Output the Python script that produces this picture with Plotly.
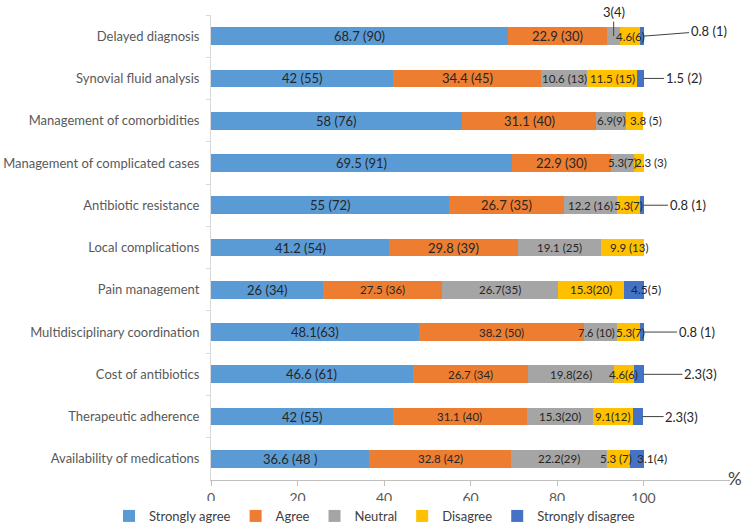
import plotly.graph_objects as go

categories = ["Delayed diagnosis", "Synovial fluid analysis", "Management of comorbidities",
              "Management of complicated cases", "Antibiotic resistance", "Local complications",
              "Pain management", "Multidisciplinary coordination", "Cost of antibiotics",
              "Therapeutic adherence", "Availability of medications"]

series_names = ["Strongly agree", "Agree", "Neutral", "Disagree", "Strongly disagree"]

strongly_agree = [68.7, 42, 58, 69.5, 55, 41.2, 26, 48.1, 46.6, 42, 36.6]
agree = [22.9, 34.4, 31.1, 22.9, 26.7, 29.8, 27.5, 38.2, 26.7, 31.1, 32.8]
neutral = [3, 10.6, 6.9, 5.3, 12.2, 19.1, 26.7, 7.6, 19.8, 15.3, 22.2]
disagree = [4.6, 11.5, 3.8, 2.3, 5.3, 9.9, 15.3, 5.3, 4.6, 9.1, 5.3]
strongly_disagree = [0.8, 1.5, 0, 0, 0.8, 0, 4.5, 0.8, 2.3, 2.3, 3.1]

sa_labels = ["68.7 (90)", "42 (55)", "58 (76)", "69.5 (91)", "55 (72)", "41.2 (54)", "26 (34)",
             "48.1(63)", "46.6 (61)", "42 (55)", "36.6 (48 )"]
ag_labels = ["22.9 (30)", "34.4 (45)", "31.1 (40)", "22.9 (30)", "26.7 (35)", "29.8 (39)",
             "27.5 (36)", "38.2 (50)", "26.7 (34)", "31.1 (40)", "32.8 (42)"]
ne_labels = ["3(4)", "10.6 (13)", "6.9(9)", "5.3(7)", "12.2 (16)", "19.1 (25)", "26.7(35)",
             "7.6 (10)", "19.8(26)", "15.3(20)", "22.2(29)"]
di_labels = ["4.6(6)", "11.5 (15)", "3.8 (5)", "2.3 (3)", "5.3(7)", "9.9 (13)", "15.3(20)",
             "5.3(7)", "4.6(6)", "9.1(12)", "5.3 (7)"]
sd_labels = ["0.8 (1)", "1.5 (2)", "", "", "0.8 (1)", "", "4.5(5)", "0.8 (1)", "2.3(3)",
             "2.3(3)", "3.1(4)"]

values = [strongly_agree, agree, neutral, disagree, strongly_disagree]
labels = [sa_labels, ag_labels, ne_labels, di_labels, sd_labels]
colors = ["#5B9BD5", "#ED7D31", "#A5A5A5", "#FFC000", "#4472C4"]

# styling: label font sizes per series, small pixel shifts and callouts
series_font = [13, 13, 11.5, 11.5, 12]
xshift = {(2, 3): 12, (3, 3): 12, (5, 3): 7, (6, 4): 12, (10, 3): -3, (10, 4): 15,
          (7, 2): -4, (7, 3): 2}
callout = {(0, 2): (0, -24), (0, 4): (65, -5), (1, 4): (40, 0), (4, 4): (44, 0),
           (7, 4): (53, 0), (8, 4): (57, 0), (9, 4): (39, 0)}

fig = go.Figure()
for name, vals, col in zip(series_names, values, colors):
    fig.add_trace(go.Bar(y=categories, x=vals, name=name, orientation="h",
                         marker=dict(color=col, line=dict(width=0)), hoverinfo="skip"))

annotations = []
for i, cat in enumerate(categories):
    start = 0.0
    for s in range(5):
        v = values[s][i]
        txt = labels[s][i]
        if v > 0 and txt:
            size = series_font[s]
            if s == 1 and i >= 6:
                size = 11.5
            if (i, s) == (7, 2):
                size = 11
            if (i, s) in callout:
                ax, ay = callout[(i, s)]
                head_x = start + v / 2 if s != 4 else start + v
                annotations.append(dict(x=head_x, y=cat, xref="x", yref="y", text=txt,
                                        showarrow=True, arrowhead=0, arrowwidth=1,
                                        arrowcolor="#404040", ax=ax, ay=ay,
                                        font=dict(family="Lato", size=13, color="#262626")))
            else:
                annotations.append(dict(x=start + v / 2, y=cat, xref="x", yref="y", text=txt,
                                        showarrow=False, xshift=xshift.get((i, s), 0),
                                        font=dict(family="Lato", size=size, color="#262626")))
        start += v

annotations.append(dict(x=1.0096, y=0.004, xref="paper", yref="paper", text="%",
                        showarrow=False, xanchor="center", yanchor="middle",
                        font=dict(family="Lato", size=17, color="#404040")))

fig.update_layout(
    width=750, height=525,
    margin=dict(l=211, r=20, t=15, b=45, autoexpand=False),
    barmode="stack", bargap=0.58,
    plot_bgcolor="white", paper_bgcolor="white",
    font=dict(family="Lato", color="#595959"),
    xaxis=dict(range=[0, 120], tickvals=[0, 20, 40, 60, 80, 100], showline=True,
               linecolor="#bfbfbf", ticks="outside", tickcolor="#bfbfbf", ticklen=5,
               showgrid=False, zeroline=False, tickfont=dict(size=14, color="#595959")),
    yaxis=dict(categoryorder="array", categoryarray=categories, autorange="reversed",
               showline=True, linecolor="#d9d9d9", ticks="outside", tickson="boundaries",
               ticklen=4, tickcolor="#d9d9d9", showgrid=False, ticklabelstandoff=8,
               tickfont=dict(size=13, color="#595959")),
    legend=dict(orientation="h", x=-0.1965, xanchor="left", y=-0.0774, yanchor="middle",
                font=dict(size=13, color="#404040"), traceorder="normal"),
    annotations=annotations,
)

fig.write_html("out.html")
